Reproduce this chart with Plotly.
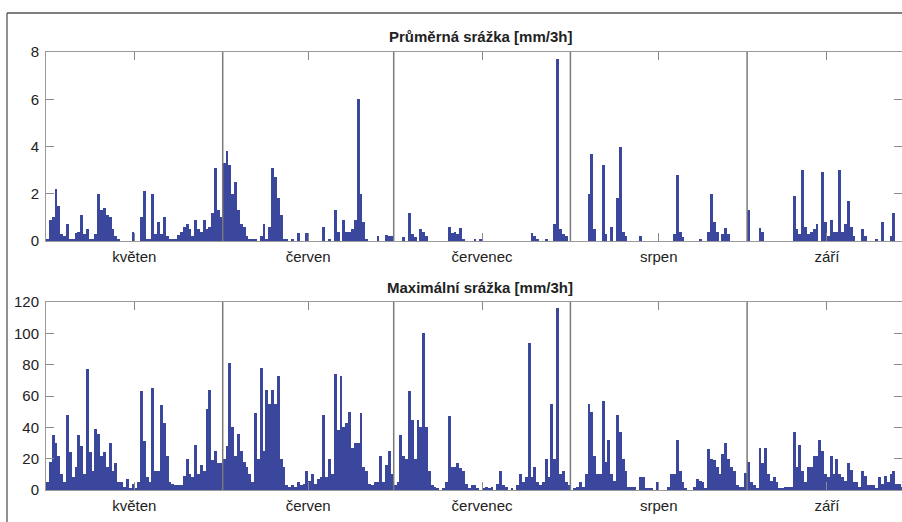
import plotly.graph_objects as go

# ---- data: 12-hour resolution values, per month (2 values per day) ----
months = ["květen", "červen", "červenec", "srpen", "září"]
month_days = [31, 30, 31, 31, 30]
month_tick_days = [15.5, 46, 76.5, 107.5, 137]

avg_may = [0.1, 0.9, 1.0, 2.2, 1.5, 0.3, 0.2, 0.7, 0.1, 0.1,
           0.35, 0.4, 1.1, 0.3, 0.5, 0.05, 0.1, 0.3, 2.0, 1.3,
           1.4, 1.1, 1.0, 0.5, 0.2, 0.05, 0, 0, 0, 0,
           0.4, 0, 0, 1.0, 2.1, 0.1, 0.1, 2.0, 0.3, 0.8,
           0.3, 1.0, 0.2, 0.05, 0.1, 0.1, 0.25, 0.4, 0.6, 0.7,
           0.5, 0.2, 0.9, 0.5, 0.4, 0.9, 0.5, 0.6, 1.2, 3.1,
           1.3, 1.0]
avg_jun = [3.3, 3.8, 3.2, 2.0, 2.5, 1.3, 0.7, 0.6, 0.2, 0.1,
           0.05, 0.1, 0, 0.2, 0.7, 0.1, 0.6, 3.1, 2.7, 1.8,
           1.1, 0.1, 0.05, 0, 0.05, 0, 0.35, 0, 0, 0.35,
           0, 0, 0, 0, 0, 0.6, 0, 0.1, 0, 1.3,
           0.4, 0, 0.9, 0.4, 0.4, 0.5, 0.9, 6.0, 2.0, 0.8,
           0.1, 0, 0, 0, 0.2, 0, 0, 0.25, 0.2, 0.2]
avg_jul = [0, 0, 0, 0.15, 0, 1.2, 0.3, 0.15, 0, 0.5,
           0.4, 0.2, 0, 0, 0, 0, 0, 0, 0, 0.6,
           0.35, 0.4, 0.3, 0.55, 0.1, 0, 0, 0, 0.05, 0,
           0.1, 0, 0, 0, 0, 0, 0, 0, 0, 0,
           0, 0, 0, 0, 0, 0, 0, 0, 0.35, 0.2,
           0.1, 0, 0, 0.1, 0, 0, 0.7, 7.7, 0.5, 0.3,
           0.2, 0]
avg_aug = [0, 0, 0, 0, 0, 0, 2.0, 3.7, 0.5, 0,
           0, 3.2, 0.3, 0, 0.6, 0, 1.8, 4.0, 0.4, 0.2,
           0, 0, 0, 0, 0.2, 0, 0, 0, 0, 0,
           0, 0, 0, 0, 0, 0, 0.3, 2.8, 0.4, 0.15,
           0, 0, 0, 0, 0, 0.05, 0, 0, 0.4, 2.0,
           0.8, 0.4, 0, 0.3, 0.55, 0.3, 0, 0, 0, 0,
           0, 0]
avg_sep = [1.3, 0, 0, 0, 0.55, 0.4, 0, 0, 0, 0,
           0, 0, 0, 0, 0, 0, 1.9, 0.5, 0.3, 3.0,
           0.6, 0.3, 0.4, 0.5, 0.7, 0, 2.9, 0.8, 0.2, 0.9,
           0.4, 0.4, 3.0, 0.4, 0.7, 1.7, 0.6, 0.2, 0, 0,
           0.5, 0.2, 0, 0, 0, 0.1, 0, 0.8, 0, 0,
           0.2, 1.2, 0, 0, 0, 0, 0, 0, 0, 0]

max_may = [5, 18, 35, 30, 22, 10, 5, 48, 24, 8,
           15, 35, 28, 10, 77, 24, 12, 39, 36, 22,
           24, 15, 30, 12, 17, 5, 5, 2, 7, 1,
           4, 1, 5, 63, 31, 8, 5, 65, 12, 12,
           54, 43, 22, 5, 4, 3, 3, 3, 9, 20,
           10, 8, 29, 10, 16, 12, 52, 64, 19, 25,
           17, 17]
max_jun = [20, 28, 81, 40, 22, 36, 25, 18, 15, 10,
           5, 49, 20, 78, 25, 64, 55, 64, 55, 73,
           20, 15, 3, 2, 3, 2, 5, 3, 4, 12,
           6, 10, 4, 7, 8, 48, 8, 20, 10, 74,
           38, 73, 40, 43, 50, 27, 30, 30, 49, 15,
           12, 4, 3, 5, 5, 22, 5, 16, 25, 10]
max_jul = [3, 5, 35, 22, 20, 63, 45, 20, 45, 40,
           100, 40, 12, 3, 2, 1, 0, 1, 5, 47,
           15, 15, 17, 14, 12, 4, 1, 3, 3, 1,
           0, 1, 2, 1, 2, 0, 4, 12, 3, 2,
           0, 1, 0, 3, 10, 5, 8, 94, 8, 15,
           5, 3, 5, 20, 8, 55, 20, 116, 10, 12,
           5, 3]
max_aug = [0, 1, 2, 5, 2, 10, 55, 50, 22, 10,
           10, 57, 18, 32, 10, 6, 48, 37, 20, 12,
           2, 2, 2, 0, 8, 8, 1, 1, 1, 0,
           5, 0, 0, 0, 2, 10, 10, 32, 12, 5,
           1, 0, 0, 2, 7, 6, 5, 1, 26, 20,
           19, 15, 10, 23, 30, 20, 15, 12, 3, 2,
           2, 11]
max_sep = [18, 5, 3, 1, 27, 17, 27, 10, 6, 8,
           5, 1, 1, 2, 2, 2, 37, 15, 29, 12,
           5, 15, 15, 22, 22, 32, 25, 10, 8, 22,
           10, 20, 10, 8, 6, 17, 13, 5, 5, 2,
           12, 9, 3, 3, 3, 1, 8, 4, 9, 5,
           10, 12, 4, 4, 2, 1, 1, 1, 0, 0]

avg_series = [avg_may, avg_jun, avg_jul, avg_aug, avg_sep]
max_series = [max_may, max_jun, max_jul, max_aug, max_sep]

title_avg = "Průměrná srážka [mm/3h]"
title_max = "Maximální srážka [mm/3h]"

# ---- build x positions (days since 1 May) from month lengths ----
month_start = [0]
for d in month_days[:-1]:
    month_start.append(month_start[-1] + d)


def flatten(series):
    xs, ys = [], []
    for start, vals in zip(month_start, series):
        for i, v in enumerate(vals):
            xs.append(start + 0.25 + 0.5 * i)
            ys.append(v)
    return xs, ys


xa, ya = flatten(avg_series)
xm, ym = flatten(max_series)

BAR = "#3a479c"
FONT = "Liberation Sans, Arial, Helvetica, sans-serif"
W, H = 902, 522
ML = 46

fig = go.Figure()
fig.add_trace(go.Bar(x=xa, y=ya, width=0.5, marker=dict(color=BAR, line=dict(width=0)),
                     xaxis="x", yaxis="y", showlegend=False))
fig.add_trace(go.Bar(x=xm, y=ym, width=0.5, marker=dict(color=BAR, line=dict(width=0)),
                     xaxis="x2", yaxis="y2", showlegend=False))

xr = [0, (W - ML) / 5.7]
axis_common = dict(ticks="inside", ticklen=8, tickcolor="#8a8a8a", showline=True,
                   linecolor="#9a9a9a", linewidth=1, mirror="ticks", showgrid=False,
                   zeroline=False, automargin=False,
                   tickfont=dict(family=FONT, size=15, color="#222"))

fig.update_layout(
    width=W, height=H,
    margin=dict(l=ML, r=0, t=0, b=0, autoexpand=False),
    paper_bgcolor="white", plot_bgcolor="white",
    bargap=0,
    xaxis=dict(domain=[0, 1], anchor="y", range=xr, tickvals=month_tick_days,
               ticktext=months, ticklabelstandoff=2, **axis_common),
    yaxis=dict(domain=[281 / H, 470 / H], anchor="x", range=[0, 8], dtick=2,
               ticklabelstandoff=3, **axis_common),
    xaxis2=dict(domain=[0, 1], anchor="y2", range=xr, tickvals=month_tick_days,
                ticktext=months, ticklabelstandoff=2, **axis_common),
    yaxis2=dict(domain=[32 / H, 220 / H], anchor="x2", range=[0, 120], dtick=20,
                ticklabelstandoff=3, **axis_common),
)

# month separators
shapes = []
for s in month_start[1:]:
    for xref, yref in (("x", "y domain"), ("x2", "y2 domain")):
        shapes.append(dict(type="line", xref=xref, yref=yref, x0=s, x1=s, y0=0, y1=1,
                           line=dict(color="#7a7a7a", width=1.5)))

# outer figure frame (partially cropped in the original)
fx = (7 - ML) / (W - ML)
fy = (H - 13) / H
shapes.append(dict(type="line", xref="paper", yref="paper", x0=fx, x1=1.02, y0=fy, y1=fy,
                   line=dict(color="#555", width=1.3)))
shapes.append(dict(type="line", xref="paper", yref="paper", x0=fx, x1=fx, y0=-0.02, y1=fy,
                   line=dict(color="#555", width=1.3)))
fig.update_layout(shapes=shapes)

tx = (480 - ML) / (W - ML)
fig.add_annotation(text="<b>" + title_avg + "</b>", xref="paper", yref="paper",
                   x=tx, y=(H - 36) / H, xanchor="center", yanchor="middle", showarrow=False,
                   font=dict(family=FONT, size=15, color="#222"))
fig.add_annotation(text="<b>" + title_max + "</b>", xref="paper", yref="paper",
                   x=tx, y=(H - 287) / H, xanchor="center", yanchor="middle", showarrow=False,
                   font=dict(family=FONT, size=15, color="#222"))

fig.write_html("out.html")
